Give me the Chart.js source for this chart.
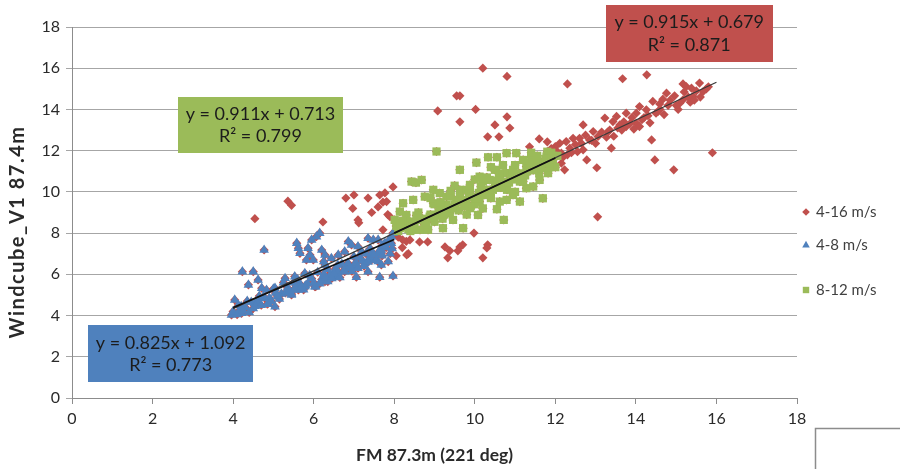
<!DOCTYPE html>
<html>
<head>
<meta charset="utf-8">
<script src="https://cdn.jsdelivr.net/npm/chart.js@4.4.1/dist/chart.umd.min.js"></script>
<style>
  html, body { margin: 0; padding: 0; background: #ffffff; }
  #wrap { position: relative; width: 900px; height: 469px; }
</style>
</head>
<body>
<div id="wrap"><canvas id="c" width="900" height="469"></canvas></div>
<script>
// ---------------- DATA ----------------
const seriesNames = ['4-16 m/s', '4-8 m/s', '8-12 m/s'];
const xTicks = [0, 2, 4, 6, 8, 10, 12, 14, 16, 18];
const yTicks = [0, 2, 4, 6, 8, 10, 12, 14, 16, 18];
const xTitle = 'FM 87.3m (221 deg)';
const yTitle = 'Windcube_V1 87.4m';

// 4-8 m/s (blue triangles)
const blue48 = [
  [4.77,7.18],[4.23,6.13],[4.5,6.13],[4.62,5.73],[4.38,5.49],[4.71,5.33],[4.83,5.24],[5.04,5.33],[5.29,5.81],[5.53,5.89],
  [4.04,4.76],[4.13,4.51],[4.21,4.11],[3.96,4.03],[4.17,4.27],[4.62,4.76],[4.79,4.84],[5.04,4.43],[5.12,4.92],[5.45,5.0],
  [5.62,5.24],[5.78,5.4],[6.03,5.4],[6.28,5.65],[6.53,5.89],[6.77,6.13],[7.02,6.3],[7.27,6.54],[7.44,6.7],[7.68,7.02],
  [7.93,7.51],[4.54,4.6],[4.87,4.6],
  [5.58,7.51],[5.62,7.27],[5.66,7.02],[5.95,7.67],[6.07,7.83],[6.15,8.0],[5.86,7.27],[5.91,6.94],[5.82,6.7],[6.2,7.18],
  [6.28,6.94],[5.99,6.7],[6.25,6.62],
  [6.86,7.59],[6.94,7.43],[7.1,7.35],[7.19,7.1],[6.77,7.1],[6.61,6.94],[6.44,6.78],[6.28,6.46],
  [7.35,7.75],[7.48,7.67],[7.6,7.67],[7.77,7.51],[7.93,7.83],[7.97,8.0],[7.68,7.18],[7.6,6.62],[7.85,6.62],[7.68,6.46],
  [7.06,5.86],[7.35,6.13],[7.64,5.86],[7.97,5.92],[6.44,5.86],[5.78,6.05],
  [4.3,4.4],[4.6,4.6],[4.9,4.85],[5.2,5.05],[5.5,5.25],[5.8,5.45],[6.0,5.6],[6.2,5.75],[6.4,5.95],[6.6,6.1],
  [6.8,6.3],[7.0,6.45],[7.2,6.65],[7.4,6.85],[7.6,7.05],[7.8,7.3],
  [4.45,4.65],[4.75,4.9],[5.05,5.1],[5.35,5.35],[5.65,5.55],[5.95,5.8],[6.25,6.0],[6.55,6.3],[6.85,6.55],[7.15,6.8],
  [7.45,7.05],[7.75,7.45],
  [4.5,4.35],[4.85,4.55],[5.15,4.8],[5.45,5.05],[5.75,5.25],[6.05,5.4],[6.35,5.65],[6.65,5.85],[6.95,6.15],[7.25,6.4],
  [7.55,6.7],[7.9,7.0],
  [5.0,5.3],[5.6,5.75],[6.1,6.1],[6.7,6.5],[7.3,7.0],[7.85,7.6],[4.2,4.45],[4.0,4.2],
  [4.1,4.05],[4.25,4.25],[4.4,4.15],[4.55,4.45],[4.7,4.5],[4.95,4.7],[5.1,4.95],[5.3,5.1],[5.4,5.2],[5.55,5.35],
  [5.7,5.4],[5.85,5.55],[6.15,5.55],[6.3,5.85],[6.45,5.8],[6.5,6.05],[6.75,6.2],[6.9,6.35],[7.05,6.55],[7.1,6.3],
  [7.35,6.6],[7.5,6.95],[7.65,7.15],[7.7,6.9],[7.95,7.25],[4.35,4.7],[4.65,4.95],[5.25,5.6],[5.5,5.6],[5.9,5.95],
  [6.35,6.25],[6.6,6.45],[7.0,6.85],[7.4,7.25],[7.7,7.4]
];

// 8-12 m/s (green squares)
const green812 = [
  [9.05,11.96],[9.63,11.07],[10.04,11.42],[10.33,11.68],[10.55,11.68],[10.79,11.88],[11.03,11.88],[8.43,10.5],[8.68,10.58],[8.54,10.45],
  [8.22,9.45],[8.47,9.61],[8.76,9.77],[8.97,10.1],[9.13,9.94],[8.14,9.04],[8.01,8.64],[11.12,9.53],[11.69,9.69],[10.55,9.16],
  [10.72,8.64],[10.08,8.88],[9.21,8.24],[9.71,8.24],[8.14,8.24],[8.47,8.16],[8.64,8.16],[8.84,8.16],[9.88,10.34],[10.2,10.02],
  [10.37,10.58],[10.79,10.91],[10.95,11.07],[11.28,11.23],[11.53,11.55],[11.78,11.72],[11.94,11.39],[11.82,10.91],[11.61,10.58],[11.45,10.26],
  [11.12,10.5],[11.28,10.18],[10.95,9.85],[10.79,9.61],[10.62,9.53],[9.63,10.1],[9.55,9.61],[9.79,9.45],[9.3,9.37],[9.38,8.97],
  [9.09,8.88],[8.88,8.8],[8.64,8.64],[8.39,8.56],[8.3,8.88],[9.46,8.64],[9.88,9.21],[10.12,9.53],[10.37,9.85],[10.54,10.26],
  [10.62,10.74],[10.5,11.07],[10.12,10.74],[9.88,9.94],[9.63,9.77],[9.3,9.77],[9.13,9.21],[8.97,9.45],
  [8.1,8.1],[8.3,8.3],[8.5,8.5],[8.7,8.7],[8.9,8.9],[9.1,9.0],[9.3,9.2],[9.5,9.4],[9.7,9.6],[9.9,9.75],
  [10.1,9.95],[10.3,10.1],[10.5,10.3],[10.7,10.5],[10.9,10.7],[11.1,10.9],[11.3,11.0],[11.5,11.2],[11.7,11.4],[11.9,11.6],
  [8.2,8.6],[8.6,9.0],[9.0,9.4],[9.4,9.8],[9.8,10.1],[10.2,10.5],[10.6,10.9],[11.0,11.3],[11.4,11.7],[11.8,11.95],
  [8.4,8.1],[8.8,8.5],[9.2,8.7],[9.6,9.1],[10.0,9.4],[10.4,9.7],[10.8,10.1],[11.2,10.5],[11.6,10.9],[12.0,11.2],
  [8.05,8.35],[9.0,8.55],[9.9,9.3],[10.3,10.7],[11.0,10.0],[11.9,11.9],[12.05,11.75],[11.4,11.9],[10.7,11.3],[9.5,10.3],
  [8.15,8.45],[8.35,8.2],[8.55,8.85],[8.75,8.4],[8.95,8.75],[9.15,9.5],[9.25,8.9],[9.45,9.2],[9.6,9.5],[9.75,9.3],
  [9.85,9.9],[10.05,9.7],[10.15,10.25],[10.25,9.85],[10.45,10.1],[10.55,10.55],[10.65,10.2],[10.85,10.45],[10.95,10.95],[11.05,10.6],
  [11.25,10.8],[11.35,11.4],[11.45,11.05],[11.55,11.75],[11.65,11.15],[11.75,11.6],[11.85,11.2],[11.95,11.75],[8.9,9.7],[9.4,10.05],
  [10.0,10.6],[10.4,11.2],[11.2,11.55],[8.5,8.3],[9.8,8.9],[10.2,9.2]
];

// Points of 4-16 m/s that lie outside the 4-8 and 8-12 subsets (red diamonds)
const redOnly = [
  [4.54,8.7],[5.36,9.55],[5.45,9.35],[6.23,8.54],[6.8,9.7],[7.0,9.85],[6.97,9.2],[7.35,9.7],[7.44,9.0],[7.64,9.85],
  [7.77,9.95],[7.72,9.5],[7.6,9.27],[7.97,10.24],[7.1,8.64],[7.12,8.5],[7.84,8.9],[7.81,9.53],[7.89,8.8],[7.72,8.16],
  [8.1,7.8],[8.2,7.3],[8.35,7.0],[8.05,6.9],[8.3,7.6],
  [9.98,8.0],[10.32,7.43],[10.3,7.28],[10.2,6.8],[9.7,7.43],[9.63,7.33],[9.58,7.14],[9.26,7.33],[9.38,7.14],[9.33,6.8],
  [8.83,7.57],[8.63,7.57],[8.31,6.94],[8.39,7.67],[8.21,7.67],
  [10.2,16.0],[10.8,15.6],[9.55,14.66],[9.63,14.66],[9.08,13.93],[10.02,14.0],[9.63,13.4],[10.8,13.64],[10.5,13.25],[10.87,13.1],
  [10.32,12.67],[10.6,12.67],[11.6,12.57],[11.36,12.19],[12.3,15.24],[13.67,15.49],[14.27,15.68],[13.05,8.79],[15.9,11.9],[14.94,11.07],
  [14.47,11.55],[13.03,11.17],[12.78,11.55],[14.39,12.52],
  [15.17,15.24],[15.25,15.11],[15.38,15.03],[15.58,15.28],[15.67,14.87],[15.42,14.63],[15.17,14.47],[15.09,14.3],[14.96,14.66],[14.76,14.79],
  [14.67,14.5],[14.59,14.27],[14.42,14.39],[14.09,14.14],[14.26,13.98],[14.01,13.82],[13.76,13.82],[13.52,13.66],[13.43,13.41],[13.23,13.58],
  [13.6,13.25],[13.76,13.17],[14.01,13.33],[14.09,13.17],[12.69,13.25],[12.94,12.93],[13.06,12.69],[13.27,12.65],[12.85,12.52],[12.6,12.6],
  [12.44,12.6],[12.27,12.44],[12.11,12.36],[12.36,12.12],[12.15,11.88],[12.69,12.04],[13.39,12.12],[14.5,13.82],
  [12.2,11.7],[12.5,12.3],[12.9,12.5],[13.3,12.9],[13.7,13.4],[14.2,13.6],[14.6,14.0],[15.0,14.2],[15.5,14.9],[15.8,15.1],
  [12.0,12.2],[11.8,12.43],[12.15,11.39],[12.23,11.07],[12.4,11.9],[13.9,13.6],[14.8,14.2],[15.3,14.6],[11.9,12.1],
  [12.05,11.95],[12.3,11.8],[12.55,11.95],[12.65,12.35],[12.75,12.75],[13.0,12.35],[13.15,12.9],[13.35,13.0],[13.45,12.7],[13.55,13.1],
  [13.65,13.0],[13.85,13.3],[13.95,13.05],[14.15,13.5],[14.3,13.7],[14.35,13.35],[14.55,13.9],[14.7,13.75],[14.85,14.45],[15.05,14.0],
  [15.2,14.85],[15.35,14.35],[15.45,14.45],[15.6,14.6],[15.75,15.0]
];

// Linear trendlines (slope, intercept, R², x range)
const trendSlope     = [0.915, 0.825, 0.911];
const trendIntercept = [0.679, 1.092, 0.713];
const trendR2        = [0.871, 0.773, 0.799];
const trendXFrom     = [4, 4, 8];
const trendXTo       = [16, 8, 12];

// ---------------- STYLE ----------------
const colors = ['#c0504d', '#4f81bd', '#9bbb59'];
const pointStyles = ['rectRot', 'triangle', 'rect'];
const pointRadii = [4.6, 5.6, 5.8];
const FONT = 'Lato, "Open Sans", "Liberation Sans", sans-serif';

// Equation box anchors (top-left corner in data units) and sizes in px
const boxAnchorX = [13.25, 0.40, 2.63];
const boxAnchorY = [19.08, 3.54, 14.61];
const boxW = [167, 165, 165];
const boxH = [57, 57, 56];
// Legend rows (px from top)
const legendRowY = [212, 245, 290];

const toXY = arr => arr.map(p => ({x: p[0], y: p[1]}));
const allRed = redOnly.concat(blue48, green812);
const pointSets = [allRed, blue48, green812];
const scatterOrder = [10, 6, 5];

const datasets = [];
for (let i = 0; i < 3; i++) {
  datasets.push({
    label: seriesNames[i],
    data: toXY(pointSets[i]),
    backgroundColor: colors[i],
    borderColor: colors[i],
    borderWidth: 0,
    pointStyle: pointStyles[i],
    pointRadius: pointRadii[i],
    pointHoverRadius: pointRadii[i],
    showLine: false,
    order: scatterOrder[i]
  });
}
for (let i = 0; i < 3; i++) {
  datasets.push({
    label: 'trend' + i,
    data: [
      {x: trendXFrom[i], y: trendSlope[i] * trendXFrom[i] + trendIntercept[i]},
      {x: trendXTo[i], y: trendSlope[i] * trendXTo[i] + trendIntercept[i]}
    ],
    showLine: true,
    borderColor: i === 0 ? '#3a3a3a' : '#111111',
    borderWidth: i === 0 ? 1.3 : 1.8,
    pointRadius: 0,
    fill: false,
    order: i === 0 ? 2 : 1
  });
}

const extras = {
  id: 'extras',
  afterDatasetsDraw(chart) {
    const ctx = chart.ctx;
    const xs = chart.scales.x, ys = chart.scales.y;
    for (let i = 0; i < 3; i++) {
      const left = xs.getPixelForValue(boxAnchorX[i]);
      const top = ys.getPixelForValue(boxAnchorY[i]);
      ctx.save();
      ctx.fillStyle = colors[i];
      ctx.fillRect(Math.round(left), Math.round(top), boxW[i], boxH[i]);
      ctx.fillStyle = '#1c1c1c';
      ctx.font = '18px ' + FONT;
      ctx.textAlign = 'center';
      ctx.textBaseline = 'middle';
      const cx = left + boxW[i] / 2;
      const l1 = 'y = ' + trendSlope[i].toFixed(3) + 'x + ' + trendIntercept[i].toFixed(3);
      const l2 = 'R\u00B2 = ' + trendR2[i].toFixed(3);
      ctx.fillText(l1, cx, top + boxH[i] * 0.31);
      ctx.fillText(l2, cx, top + boxH[i] * 0.71);
      ctx.restore();
    }
  },
  afterDraw(chart) {
    const ctx = chart.ctx;
    const ca = chart.chartArea;
    ctx.save();
    // legend
    for (let i = 0; i < 3; i++) {
      const ds = chart.data.datasets[i];
      const mx = ca.right + 9, my = legendRowY[i];
      ctx.fillStyle = ds.backgroundColor;
      ctx.beginPath();
      if (ds.pointStyle === 'rectRot') {
        const r = 3.8;
        ctx.moveTo(mx, my - r); ctx.lineTo(mx + r, my); ctx.lineTo(mx, my + r); ctx.lineTo(mx - r, my);
      } else if (ds.pointStyle === 'triangle') {
        const r = 4.2;
        ctx.moveTo(mx, my - r); ctx.lineTo(mx + r * 0.9, my + r * 0.6); ctx.lineTo(mx - r * 0.9, my + r * 0.6);
      } else {
        ctx.rect(mx - 3.2, my - 3.2, 6.4, 6.4);
      }
      ctx.closePath();
      ctx.fill();
      ctx.fillStyle = '#404040';
      ctx.font = '15px ' + FONT;
      ctx.textAlign = 'left';
      ctx.textBaseline = 'middle';
      ctx.fillText(ds.label, mx + 10, my);
    }
    // y axis title (rotated)
    ctx.save();
    ctx.translate(18, 232);
    ctx.rotate(-Math.PI / 2);
    ctx.fillStyle = '#2a2a2a';
    ctx.font = 'bold 20px ' + FONT;
    try { ctx.letterSpacing = '1.5px'; } catch (e) {}
    ctx.textAlign = 'center';
    ctx.textBaseline = 'middle';
    ctx.fillText(yTitle, 0, 0);
    ctx.restore();
    // frame of a neighbouring object at the bottom-right corner
    ctx.strokeStyle = '#8c8c8c';
    ctx.lineWidth = 1.5;
    ctx.strokeRect(815.5, 428.5, 200, 100);
    ctx.restore();
  }
};

new Chart(document.getElementById('c'), {
  type: 'scatter',
  data: { datasets },
  plugins: [extras],
  options: {
    responsive: false,
    animation: false,
    devicePixelRatio: 1,
    layout: { padding: { left: 0, right: 103, top: 27, bottom: 0 } },
    plugins: { legend: { display: false }, tooltip: { enabled: false } },
    scales: {
      x: {
        type: 'linear', min: 0, max: 18,
        afterBuildTicks: s => { s.ticks = xTicks.map(v => ({value: v})); },
        afterFit: s => { s.height = 71; },
        ticks: { color: '#2a2a2a', font: { family: FONT, size: 16 }, padding: 5, maxRotation: 0 },
        grid: { drawOnChartArea: false, drawTicks: true, tickLength: 6, color: '#8c8c8c' },
        border: { display: true, color: '#8c8c8c', width: 1 },
        title: { display: true, text: xTitle, color: '#2a2a2a',
                 font: { family: FONT, size: 17.5, weight: 'bold' }, padding: { top: 4, bottom: 3 } }
      },
      y: {
        type: 'linear', min: 0, max: 18,
        afterBuildTicks: s => { s.ticks = yTicks.map(v => ({value: v})); },
        afterFit: s => { s.width = 72; },
        ticks: { color: '#2a2a2a', font: { family: FONT, size: 16 }, padding: 6 },
        grid: { drawOnChartArea: true, drawTicks: true, tickLength: 6, color: '#a6a6a6', lineWidth: 1 },
        border: { display: true, color: '#8c8c8c', width: 1 },
        title: { display: false }
      }
    }
  }
});
</script>
</body>
</html>
